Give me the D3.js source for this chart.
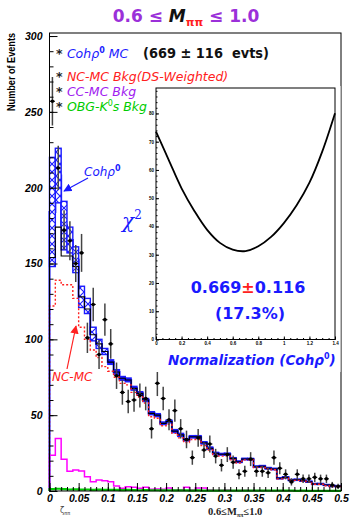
<!DOCTYPE html>
<html>
<head>
<meta charset="utf-8">
<script src="https://cdn.jsdelivr.net/npm/d3@7/dist/d3.min.js"></script>
<style>
  body { margin: 0; background: #fff; }
</style>
</head>
<body>
<div id="chart"></div>
<script>
// zeta_pipi histogram, 50 bins of 0.01 between 0 and 0.5
const binWidth = 0.01;

// data points and their errors
const dataVal = [257,213,172,165,150,157,101,123,90,113, 97,76,65,59,60,63,61,41,71,61,
                 47,53,41,34,22,35,27,31,23,17, 24,19,11,13,21,13,13,12,22,15,
                 11,6,11,8,8,9,8,8,4,3];
const dataErr = [16,14.6,13.1,12.8,12.2,12.5,10,11.1,9.5,10.6, 9.8,8.7,8.1,7.7,7.7,7.9,7.8,6.4,8.4,7.8,
                 6.9,7.3,6.4,5.8,4.7,5.9,5.2,5.6,4.8,4.1, 4.9,4.4,3.3,3.6,4.6,3.6,3.6,3.5,4.7,3.9,
                 3.3,2.4,3.3,2.8,2.8,3,2.8,2.8,2,1.7];

// Coh rho0 MC (scaled) error boxes
const cohHi = [220,226,191,174,161,135,127,108,100,94, 86.5,80,75.5,74.5,69,65.5,61,52.3,51,45.5,
               46.7,40.5,38,34.5,36.5,36.5,32.5,29,25.5,24.8, 25,22,19.8,21.6,21.5,16.5,16.8,15.5,15,8.8,
               9.4,7.6,7.8,7.2,6.5,5,5,4.3,3.6,3.6];
const cohLo = [148,190,159,157,144,121,117,99,94,90, 83.5,77,73,72,66.5,63.5,59,50.3,49,43.8,
               45,38.5,36,33,35,35,31,27.5,24.3,23.7, 23.8,21,18.8,20.6,20.5,15.6,15.8,14.5,14,8,
               8.6,6.8,7,6.4,5.8,4.3,4.3,3.7,3,3];
// black total MC
const totalMC = [154,174,155,155,148,128,120,103,97,92, 85,78.5,74.3,73.2,67.7,64.4,60,51.2,50,44.6,
                 45.8,39.5,37,33.7,35.8,35.8,31.8,28.2,24.9,24.2, 24.4,21.5,19.3,21.1,21,16,16.3,15,14.5,8.4,
                 9,7.2,7.4,6.8,6.1,4.6,4.6,4,3.3,3.3];
// NC-MC background (DS weighted)
const ncMC = [122,139,136,136,127,108,100,93,88,82, 79,75,71,70,65,62,58,49,48,43,
              44,38,35,32,34,34,30,27,24,23, 23,20.5,18.5,20.5,20.5,15.5,15.5,14.5,14,8,
              8.5,7,7,6.5,6,4.5,4.5,3.5,3,3];
// CC-MC background
const ccMC = [23.5,34.7,21,13,13.8,13.2,9.4,6.1,7.3,6.8, 6.1,3.3,1.8,2.8,2.4,1.8,2.4,1.1,1.3,1.1,
              2,0.7,0.8,2.4,0.6,2,2,0.6,0.5,0.5, 0.6,0.4,0.4,0.5,0.3,0.4,0.3,0.3,0.2,0.3,
              0.2,0.2,0.1,0.2,0.1,0.1,0.1,0.1,0.1,0.1];
// OBG K0s background
const obgMC = [1.2,1.5,1.3,1.0,1.1,0.9,1.0,0.8,0.9,0.8, 0.7,0.8,0.6,0.7,0.6,0.5,0.6,0.5,0.5,0.4,
               0.5,0.4,0.4,0.4,0.3,0.4,0.3,0.3,0.3,0.3, 0.3,0.2,0.3,0.2,0.2,0.2,0.2,0.2,0.2,0.2,
               0.2,0.2,0.1,0.2,0.1,0.1,0.1,0.1,0.1,0.1];

// chi2 scan vs normalization
const normX = [0,0.1,0.2,0.3,0.4,0.5,0.6,0.7,0.8,0.9,1.0,1.1,1.2,1.3,1.4];
const chi2Y = [73.6,63.5,53.5,45.5,38.8,34.2,31.8,31.3,33.0,36.3,41.2,47.5,55.5,66.5,80.1];

const yTicks = [0,50,100,150,200,250,300];
const xTicks = [0,0.05,0.1,0.15,0.2,0.25,0.3,0.35,0.4,0.45,0.5];
const insetYTicks = [0,10,20,30,40,50,60,70,80];
const insetXTicks = [0,0.2,0.4,0.6,0.8,1,1.2,1.4];

const W = 351, H = 517;
const blue = '#1a1aff', red = '#ff2020', purple = '#a020f0', green = '#00cc00', magenta = '#ff00ff';
const tickFont = 'Liberation Sans, Arial, sans-serif';
const textFont = 'DejaVu Sans, Verdana, sans-serif';

const svg = d3.select('#chart').append('svg')
  .attr('width', W).attr('height', H)
  .style('background-color', '#fff');

const defs = svg.append('defs');
const pat = defs.append('pattern').attr('id', 'hatch')
  .attr('width', 8).attr('height', 8).attr('patternUnits', 'userSpaceOnUse');
pat.append('rect').attr('width', 8).attr('height', 8).attr('fill', '#fff');
pat.append('path').attr('d', 'M0,0L8,8M8,0L0,8')
  .attr('stroke', blue).attr('stroke-width', 1.1);

function arrowMarker(id, col) {
  defs.append('marker').attr('id', id)
    .attr('viewBox', '0 0 10 10').attr('refX', 9).attr('refY', 5)
    .attr('markerWidth', 7).attr('markerHeight', 7).attr('orient', 'auto')
    .append('path').attr('d', 'M0,0L10,5L0,10z').attr('fill', col);
}
arrowMarker('arrBlue', blue);
arrowMarker('arrRed', red);

// main scales
const x = d3.scaleLinear().domain([0, 0.5]).range([49.5, 341]);
const y = d3.scaleLinear().domain([0, 302]).range([491, 33]);

const binLo = (i) => i * binWidth;

function stepPoints(vals) {
  const pts = [[0, 0]];
  vals.forEach((v, i) => { pts.push([binLo(i), v]); pts.push([binLo(i) + binWidth, v]); });
  return pts;
}
const line = d3.line().x(d => x(d[0])).y(d => y(d[1]));

const plot = svg.append('g');

// blue step along box centres
plot.append('path')
  .attr('d', line(stepPoints(cohHi.map((d, i) => (d + cohLo[i]) / 2))))
  .attr('fill', 'none').attr('stroke', blue).attr('stroke-width', 2);

// Coh error boxes
plot.append('g').selectAll('rect').data(cohHi).enter().append('rect')
  .attr('x', (d, i) => x(binLo(i)))
  .attr('width', x(binWidth) - x(0))
  .attr('y', d => y(d))
  .attr('height', (d, i) => Math.max(1, y(cohLo[i]) - y(d)))
  .attr('fill', (d, i) => i < 10 ? 'url(#hatch)' : blue)
  .attr('stroke', blue).attr('stroke-width', 1.4);

// total MC black
plot.append('path').attr('d', line(stepPoints(totalMC)))
  .attr('fill', 'none').attr('stroke', '#000').attr('stroke-width', 1.1);

// NC-MC red dotted
plot.append('path').attr('d', line(stepPoints(ncMC)))
  .attr('fill', 'none').attr('stroke', red).attr('stroke-width', 1.4)
  .attr('stroke-dasharray', '2,2');

// CC-MC magenta
plot.append('path').attr('d', line(stepPoints(ccMC)))
  .attr('fill', 'none').attr('stroke', magenta).attr('stroke-width', 1.5);

// OBG green
plot.append('path').attr('d', line(stepPoints(obgMC)))
  .attr('fill', 'none').attr('stroke', green).attr('stroke-width', 2.2);

// data points
const pts = plot.append('g').selectAll('g').data(dataVal).enter().append('g');
pts.append('line')
  .attr('x1', (d, i) => x(binLo(i) + binWidth / 2)).attr('x2', (d, i) => x(binLo(i) + binWidth / 2))
  .attr('y1', (d, i) => y(d + dataErr[i])).attr('y2', (d, i) => y(d - dataErr[i]))
  .attr('stroke', '#444').attr('stroke-width', 1.5);
pts.append('line')
  .attr('x1', (d, i) => x(binLo(i) + binWidth / 2) - 2.5).attr('x2', (d, i) => x(binLo(i) + binWidth / 2) + 2.5)
  .attr('y1', d => y(d)).attr('y2', d => y(d))
  .attr('stroke', '#000').attr('stroke-width', 1.1);
pts.append('circle')
  .attr('cx', (d, i) => x(binLo(i) + binWidth / 2)).attr('cy', d => y(d))
  .attr('r', 1.8).attr('fill', '#000');

// frame
svg.append('rect').attr('x', x(0)).attr('y', y(302))
  .attr('width', x(0.5) - x(0)).attr('height', y(0) - y(302))
  .attr('fill', 'none').attr('stroke', '#000').attr('stroke-width', 1);

// y axis: inward ticks
const yAxisG = svg.append('g').attr('transform', `translate(${x(0)},0)`)
  .call(d3.axisLeft(y).tickValues(yTicks).tickSize(-8).tickPadding(7));
svg.append('g').attr('transform', `translate(${x(0)},0)`)
  .call(d3.axisLeft(y).tickValues(d3.range(0, 301, 10)).tickSize(-4).tickFormat(''));
// x axis
const xAxisG = svg.append('g').attr('transform', `translate(0,${y(0)})`)
  .call(d3.axisBottom(x).tickValues(xTicks).tickSize(-8).tickPadding(4)
    .tickFormat(d => d === 0 ? '0' : d3.format('~g')(d)));
svg.append('g').attr('transform', `translate(0,${y(0)})`)
  .call(d3.axisBottom(x).tickValues(d3.range(0, 51).map(i => i * binWidth)).tickSize(-4).tickFormat(''));
svg.selectAll('.domain').remove();
svg.selectAll('.tick line').attr('stroke', '#000');
yAxisG.selectAll('text').attr('font-family', tickFont).attr('font-size', 10.5)
  .attr('font-weight', 'bold').attr('font-style', 'italic').attr('fill', '#000');
xAxisG.selectAll('text').attr('font-family', tickFont).attr('font-size', 10.5)
  .attr('font-weight', 'bold').attr('font-style', 'italic').attr('fill', '#000');

// ---------- inset chi2 ----------
svg.append('rect').attr('x', 146).attr('y', 86).attr('width', x(0.5) - 146 - 0.5).attr('height', 372 - 86)
  .attr('fill', '#fff');

const ix = d3.scaleLinear().domain([0, 1.4]).range([156, 335]);
const iy = d3.scaleLinear().domain([0, 89]).range([339.5, 88]);

svg.append('rect').attr('x', ix(0)).attr('y', iy(89)).attr('width', ix(1.4) - ix(0))
  .attr('height', iy(0) - iy(89)).attr('fill', 'none').attr('stroke', '#000').attr('stroke-width', 1);

const iyAxis = svg.append('g').attr('transform', `translate(${ix(0)},0)`)
  .call(d3.axisLeft(iy).tickValues(insetYTicks).tickSize(-3).tickPadding(2));
svg.append('g').attr('transform', `translate(${ix(0)},0)`)
  .call(d3.axisLeft(iy).tickValues(d3.range(0, 89, 2)).tickSize(-1.5).tickFormat(''));
const ixAxis = svg.append('g').attr('transform', `translate(0,${iy(0)})`)
  .call(d3.axisBottom(ix).tickValues(insetXTicks).tickSize(-3).tickPadding(2)
    .tickFormat(d => d3.format('~g')(d)));
svg.append('g').attr('transform', `translate(0,${iy(0)})`)
  .call(d3.axisBottom(ix).tickValues(d3.range(0, 29).map(i => i * 0.05)).tickSize(-1.5).tickFormat(''));
svg.selectAll('.domain').remove();
svg.selectAll('.tick line').attr('stroke', '#000');
iyAxis.selectAll('text').attr('font-family', tickFont).attr('font-size', 4.5).attr('font-weight', 'bold').attr('fill', '#000');
ixAxis.selectAll('text').attr('font-family', tickFont).attr('font-size', 4.5).attr('font-weight', 'bold').attr('fill', '#000');

svg.append('path')
  .datum(normX.map((v, i) => [v, chi2Y[i]]))
  .attr('d', d3.line().x(d => ix(d[0])).y(d => iy(d[1])).curve(d3.curveCatmullRom))
  .attr('fill', 'none').attr('stroke', '#000').attr('stroke-width', 1.8);

// chi2 label
const chiT = svg.append('text').attr('x', 122).attr('y', 228).attr('font-family', 'DejaVu Serif, serif')
  .attr('font-size', 20).attr('font-style', 'italic').attr('fill', blue);
chiT.append('tspan').text('χ');
chiT.append('tspan').attr('font-size', 12).attr('dy', -9).attr('font-style', 'normal').text('2');

// fit result
const fitT = svg.append('text').attr('x', 248).attr('y', 293).attr('text-anchor', 'middle')
  .attr('font-family', textFont).attr('font-weight', 'bold').attr('font-size', 16).attr('fill', blue);
fitT.append('tspan').text('0.669');
fitT.append('tspan').attr('fill', red).text('±');
fitT.append('tspan').text('0.116');
svg.append('text').attr('x', 250).attr('y', 319).attr('text-anchor', 'middle')
  .attr('font-family', textFont).attr('font-weight', 'bold').attr('font-size', 16).attr('fill', blue)
  .text('(17.3%)');

// normalization label
const nT = svg.append('text').attr('x', 168).attr('y', 365).attr('font-family', textFont)
  .attr('font-weight', 'bold').attr('font-style', 'italic').attr('font-size', 13.5).attr('fill', blue);
nT.append('tspan').text('Normalization (Cohρ');
nT.append('tspan').attr('font-size', 8).attr('dy', -6).attr('font-style', 'normal').text('0');
nT.append('tspan').attr('dy', 6).text(')');

// y title
svg.append('text').attr('transform', 'translate(15,72) rotate(-90)')
  .attr('text-anchor', 'middle').attr('font-family', tickFont).attr('font-weight', 'bold')
  .attr('font-size', 10).attr('textLength', 78).attr('lengthAdjust', 'spacingAndGlyphs')
  .text('Number of Events');

// title
const title = svg.append('text').attr('x', 186).attr('y', 22).attr('text-anchor', 'middle')
  .attr('font-family', textFont).attr('font-weight', 'bold').attr('font-size', 17).attr('fill', '#9b30d9');
title.append('tspan').text('0.6 ≤ ');
title.append('tspan').attr('fill', '#111').attr('font-style', 'italic').text('M');
title.append('tspan').attr('fill', red).attr('font-size', 11).attr('dy', 4).text('ππ');
title.append('tspan').attr('dy', -4).text(' ≤ 1.0');

// legend
function legendRow(yy, parts) {
  const t = svg.append('text').attr('x', 56).attr('y', yy).attr('font-family', textFont).attr('font-size', 12.5);
  t.append('tspan').attr('fill', '#222').attr('font-weight', 'bold').text('* ');
  parts.forEach(p => {
    const s = t.append('tspan').attr('fill', p.c).text(p.t);
    if (p.i) s.attr('font-style', 'italic');
    if (p.b) s.attr('font-weight', 'bold');
    if (p.fs) s.attr('font-size', p.fs);
    if (p.dy) s.attr('dy', p.dy);
  });
  return t;
}
legendRow(58, [{t: 'Cohρ', c: blue, i: true}, {t: '0', c: blue, b: true, fs: 8, dy: -5},
  {t: ' MC', c: blue, i: true, dy: 5}]);
svg.append('text').attr('x', 143).attr('y', 58).attr('font-family', textFont).attr('font-weight', 'bold')
  .attr('font-size', 14).attr('fill', '#111').attr('textLength', 126).attr('lengthAdjust', 'spacingAndGlyphs')
  .text('(669 ± 116\u00a0\u00a0evts)');
legendRow(81, [{t: 'NC-MC Bkg(DS-Weighted)', c: red, i: true}]);
legendRow(96, [{t: 'CC-MC Bkg', c: purple, i: true}]);
legendRow(111, [{t: 'OBG-K', c: green, i: true}, {t: '0', c: green, fs: 8, dy: -5},
  {t: 's Bkg', c: green, i: true, dy: 5}]);

// Coh annotation
const cohT = svg.append('text').attr('x', 84).attr('y', 176).attr('font-family', textFont)
  .attr('font-size', 12).attr('font-style', 'italic').attr('fill', blue);
cohT.append('tspan').text('Cohρ');
cohT.append('tspan').attr('font-size', 8).attr('font-style', 'normal').attr('font-weight', 'bold').attr('dy', -5).text('0');
svg.append('line').attr('x1', 88).attr('y1', 178).attr('x2', 64).attr('y2', 191)
  .attr('stroke', blue).attr('stroke-width', 1.2).attr('marker-end', 'url(#arrBlue)');

// NC-MC annotation
svg.append('text').attr('x', 52).attr('y', 381).attr('font-family', textFont)
  .attr('font-size', 12).attr('font-style', 'italic').attr('fill', red).text('NC-MC');
svg.append('line').attr('x1', 67).attr('y1', 369).attr('x2', 76).attr('y2', 326)
  .attr('stroke', red).attr('stroke-width', 1.2).attr('marker-end', 'url(#arrRed)');

// x titles
const zt = svg.append('text').attr('x', 60).attr('y', 513).attr('font-family', textFont)
  .attr('font-size', 8).attr('fill', '#444');
zt.append('tspan').text('ζ');
zt.append('tspan').attr('font-size', 5).attr('dy', 2).text('ππ');
const mt = svg.append('text').attr('x', 208).attr('y', 515).attr('font-family', 'Liberation Serif, serif')
  .attr('font-weight', 'bold').attr('font-size', 10.5).attr('fill', '#222');
mt.append('tspan').text('0.6≤M');
mt.append('tspan').attr('font-size', 6).attr('dy', 2).text('ππ');
mt.append('tspan').attr('dy', -2).text('≤1.0');
</script>
</body>
</html>
